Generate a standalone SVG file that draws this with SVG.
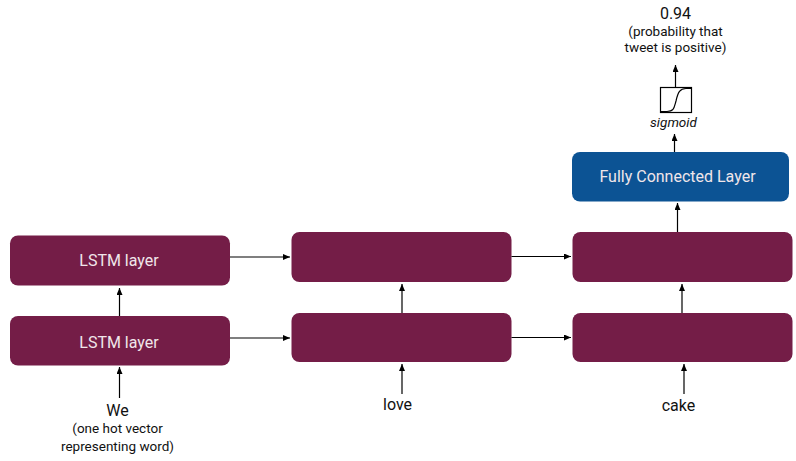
<svg xmlns="http://www.w3.org/2000/svg" width="796" height="461" viewBox="0 0 796 461">
<defs>
<marker id="a" markerUnits="userSpaceOnUse" markerWidth="7" markerHeight="8" refX="7" refY="3" orient="auto"><path d="M0 0L7 3L0 6Z" fill="#000"/></marker>
</defs>
<style>
text{font-family:Roboto,"Liberation Sans",sans-serif;text-anchor:middle;fill:#111}
.n{font-size:16px}.s{font-size:13.5px}
.w{fill:#f0e6ea;font-size:16px}
.b{fill:#741d47}
.c line{stroke:#000;stroke-width:1.2;marker-end:url(#a)}
</style>
<rect width="796" height="461" fill="#fff"/>
<g id="lstm-top-1"><rect class="b" x="10" y="235.500" width="220" height="50" rx="8"/><text class="w" x="119" y="266">LSTM layer</text></g>
<g id="lstm-bottom-1"><rect class="b" x="10" y="316" width="220" height="49.500" rx="8"/><text class="w" x="119" y="347.500">LSTM layer</text></g>
<g id="lstm-top-2"><rect class="b" x="291.500" y="232" width="220" height="50" rx="8"/></g>
<g id="lstm-bottom-2"><rect class="b" x="291.500" y="313" width="220" height="49" rx="8"/></g>
<g id="lstm-top-3"><rect class="b" x="572.500" y="232" width="220" height="50" rx="8"/></g>
<g id="lstm-bottom-3"><rect class="b" x="572.500" y="313" width="220" height="49" rx="8"/></g>
<g id="fc"><rect x="572" y="152" width="217" height="49.500" rx="8" fill="#0c5394"/><text class="w" x="677.500" y="181.500">Fully Connected Layer</text></g>
<g id="sigmoid"><rect x="660.500" y="87.500" width="31" height="25" fill="#fff" stroke="#000" stroke-width="1.200"/><path d="M661 111.500H667C674 111.500 674 108 676 101C678 92 680 88.500 686 88.500H691" fill="none" stroke="#000" stroke-width="1.200"/><text x="673.500" y="127" font-size="13.500" font-style="italic">sigmoid</text></g>
<g id="output"><text class="n" x="675.500" y="19">0.94</text><text class="s" x="675.500" y="36">(probability that</text><text class="s" x="675.500" y="52">tweet is positive)</text></g>
<g id="word-we"><text class="n" x="117.500" y="416">We</text><text class="s" x="117.500" y="433">(one hot vector</text><text class="s" x="117.500" y="451">representing word)</text></g>
<g id="word-love"><text class="n" x="397.500" y="410">love</text></g>
<g id="word-cake"><text class="n" x="678.500" y="411">cake</text></g>
<g class="c" id="connectors">
<line x1="119.500" y1="398" x2="119.500" y2="367"/>
<line x1="119.500" y1="316" x2="119.500" y2="288"/>
<line x1="230" y1="338" x2="290" y2="338"/>
<line x1="230" y1="257" x2="290" y2="257"/>
<line x1="402" y1="394" x2="402" y2="364"/>
<line x1="402" y1="313" x2="402" y2="284"/>
<line x1="511.500" y1="337.500" x2="571" y2="337.500"/>
<line x1="511.500" y1="256.500" x2="571" y2="256.500"/>
<line x1="684" y1="394" x2="684" y2="364"/>
<line x1="682" y1="313" x2="682" y2="284"/>
<line x1="677.500" y1="232" x2="677.500" y2="203"/>
<line x1="674.500" y1="152" x2="674.500" y2="134"/>
<line x1="675.500" y1="87" x2="675.500" y2="65"/>
</g>
</svg>
